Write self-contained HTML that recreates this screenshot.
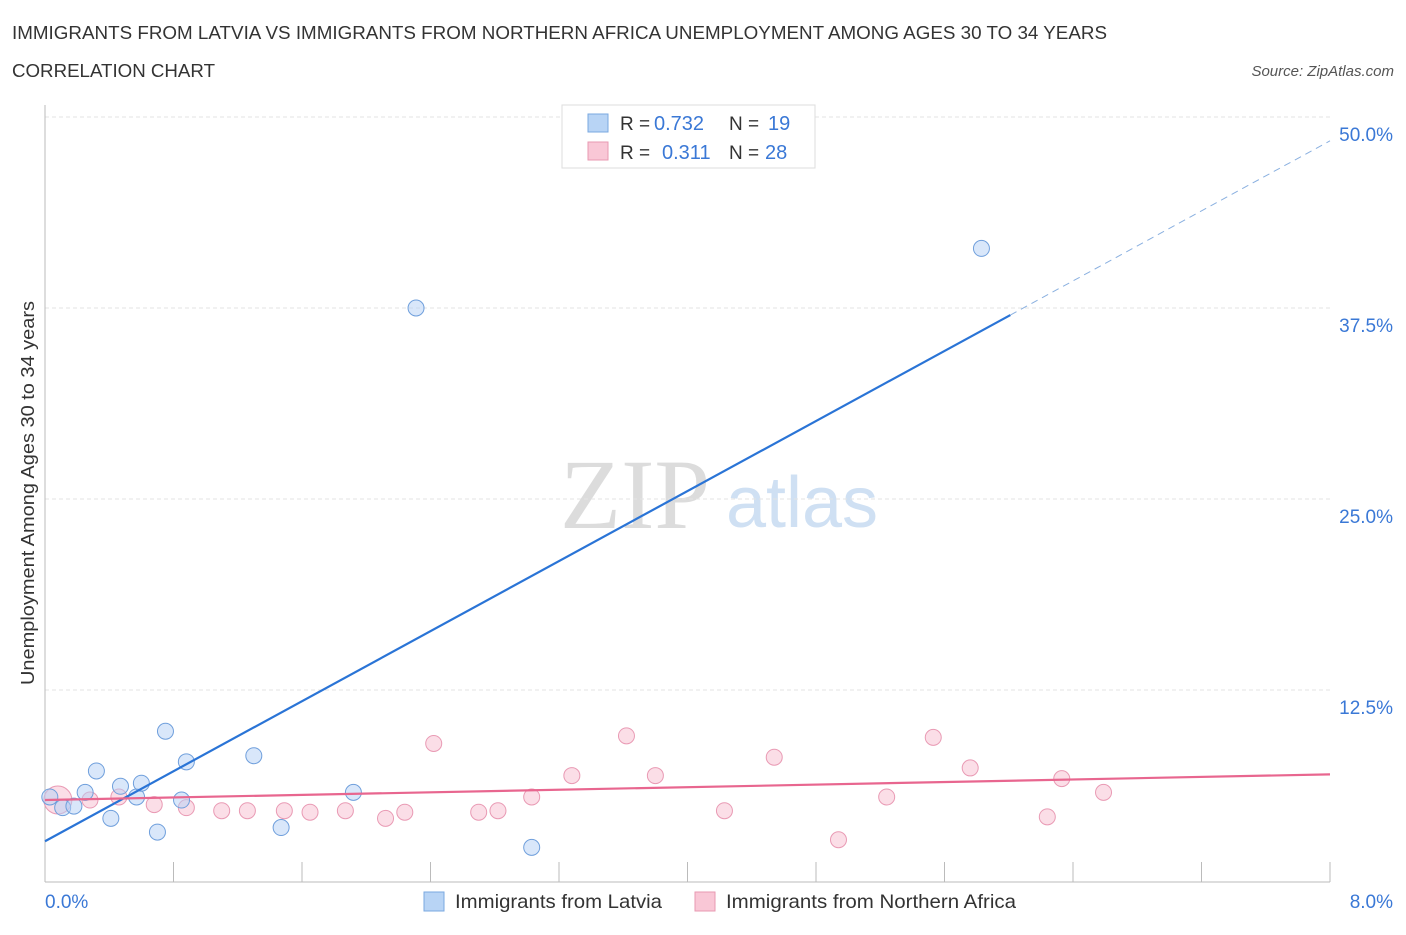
<!DOCTYPE html>
<html><head><meta charset="utf-8"><style>
body{margin:0;background:#fff;font-family:"Liberation Sans",sans-serif;}
svg text{font-family:"Liberation Sans",sans-serif;}
svg text.serif{font-family:"Liberation Serif",serif;}
</style></head><body>
<svg id="c" width="1406" height="930">
<text x="12" y="39" font-size="18" fill="#333" textLength="1095" lengthAdjust="spacingAndGlyphs">IMMIGRANTS FROM LATVIA VS IMMIGRANTS FROM NORTHERN AFRICA UNEMPLOYMENT AMONG AGES 30 TO 34 YEARS</text>
<text x="12" y="77" font-size="18" fill="#333" textLength="203" lengthAdjust="spacingAndGlyphs">CORRELATION CHART</text>
<text x="1394" y="76" font-size="15" font-style="italic" fill="#555" text-anchor="end">Source: ZipAtlas.com</text>
<text class="serif" x="635" y="528" font-size="100" fill="#dcdcdc" text-anchor="middle">ZIP</text>
<text x="802" y="527" font-size="72" fill="#cfe0f3" text-anchor="middle">atlas</text>
<text transform="translate(34,493) rotate(-90)" font-size="18" fill="#333" text-anchor="middle" textLength="384" lengthAdjust="spacingAndGlyphs">Unemployment Among Ages 30 to 34 years</text>
<g id="grid"></g><g id="marks"></g>
<g>
<rect x="562" y="105" width="253" height="63" fill="#fff" stroke="#ddd"/>
<rect x="588" y="114" width="20" height="18" fill="#b8d4f5" stroke="#7aa8e0"/>
<rect x="588" y="142" width="20" height="18" fill="#f9c7d6" stroke="#e89ab2"/>
<text x="620" y="130" font-size="19" fill="#333">R =</text>
<text x="654" y="130" font-size="20" fill="#3a78d6">0.732</text>
<text x="729" y="130" font-size="19" fill="#333">N =</text>
<text x="768" y="130" font-size="20" fill="#3a78d6">19</text>
<text x="620" y="159" font-size="19" fill="#333">R =</text>
<text x="662" y="159" font-size="20" fill="#3a78d6">0.311</text>
<text x="729" y="159" font-size="19" fill="#333">N =</text>
<text x="765" y="159" font-size="20" fill="#3a78d6">28</text>
</g>
<g>
<rect x="424" y="892" width="20" height="19" fill="#b8d4f5" stroke="#7aa8e0"/>
<text x="455" y="908" font-size="19.5" fill="#333" textLength="207" lengthAdjust="spacingAndGlyphs">Immigrants from Latvia</text>
<rect x="695" y="892" width="20" height="19" fill="#f9c7d6" stroke="#e89ab2"/>
<text x="726" y="908" font-size="19.5" fill="#333" textLength="290" lengthAdjust="spacingAndGlyphs">Immigrants from Northern Africa</text>
</g>
</svg>
<script>
const blueX=[0.03,0.11,0.18,0.25,0.32,0.41,0.47,0.57,0.60,0.70,0.75,0.85,0.88,1.30,1.47,1.92,2.31,3.03,5.83];
const blueY=[5.5,4.8,4.9,5.8,7.2,4.1,6.2,5.5,6.4,3.2,9.8,5.3,7.8,8.2,3.5,5.8,37.5,2.2,41.4];
const pinkX=[0.08,0.28,0.46,0.68,0.88,1.10,1.26,1.49,1.65,1.87,2.12,2.24,2.42,2.70,2.82,3.03,3.28,3.62,3.80,4.23,4.54,4.94,5.24,5.53,5.76,6.24,6.33,6.59];
const pinkY=[5.3,5.3,5.5,5.0,4.8,4.6,4.6,4.6,4.5,4.6,4.1,4.5,9.0,4.5,4.6,5.5,6.9,9.5,6.9,4.6,8.1,2.7,5.5,9.4,7.4,4.2,6.7,5.8];
const yTicks=[12.5,25,37.5,50];
const yTickLabels=["12.5%","25.0%","37.5%","50.0%"];
const blueTrend=[2.6,5.73];
const pinkTrend=[5.3,0.21];
const NS="http://www.w3.org/2000/svg";
const X=v=>45+v/8*1285, Y=v=>881-v/12.5*191;
function mk(t,a,p){const e=document.createElementNS(NS,t);for(const k in a)e.setAttribute(k,a[k]);p.appendChild(e);return e;}
const g=document.getElementById('grid'),m=document.getElementById('marks');
yTicks.forEach((t,i)=>{const l=mk('line',{x1:45,x2:1330,y1:Y(t),y2:Y(t),stroke:'#e3e3e3','stroke-dasharray':'4,3'},g);


const tx=mk('text',{x:1393,y:Y(t)+24,'font-size':19,fill:'#3a78d6','text-anchor':'end'},g);tx.textContent=yTickLabels[i];

});
const ax=mk('line',{x1:45,x2:1330,y1:882,y2:882,stroke:'#bbb'},g);


const ay=mk('line',{x1:45,x2:45,y1:105,y2:882,stroke:'#bbb'},g);


for(let i=1;i<=10;i++){const t=mk('line',{x1:X(i*0.8),x2:X(i*0.8),y1:862,y2:882,stroke:'#bbb'},g);

}
const t0=mk('text',{x:45,y:908,'font-size':19,fill:'#3a78d6'},g);t0.textContent='0.0%';


const t8=mk('text',{x:1393,y:908,'font-size':19,fill:'#3a78d6','text-anchor':'end'},g);t8.textContent='8.0%';


pinkX.forEach((x,i)=>{const c=mk('circle',{cx:X(x),cy:Y(pinkY[i]),r:i==0?14:8,fill:'rgba(248,190,208,0.5)',stroke:'#e99ab4','stroke-width':1},m);

});
blueX.forEach((x,i)=>{const c=mk('circle',{cx:X(x),cy:Y(blueY[i]),r:8,fill:'rgba(180,208,245,0.5)',stroke:'#6f9fdc','stroke-width':1},m);

});
const bf=v=>blueTrend[0]+blueTrend[1]*v;
const bl=mk('line',{x1:X(0),y1:Y(bf(0)),x2:X(6.01),y2:Y(bf(6.01)),stroke:'#2a74d6','stroke-width':2.2},m);


const bd=mk('line',{x1:X(6.01),y1:Y(bf(6.01)),x2:X(8),y2:Y(bf(8)),stroke:'#8ab0e0','stroke-width':1,'stroke-dasharray':'7,5'},m);


const pf=v=>pinkTrend[0]+pinkTrend[1]*v;
const pl=mk('line',{x1:X(0),y1:Y(pf(0)),x2:X(8),y2:Y(pf(8)),stroke:'#e8668f','stroke-width':2.2},m);


</script>
</body></html>
